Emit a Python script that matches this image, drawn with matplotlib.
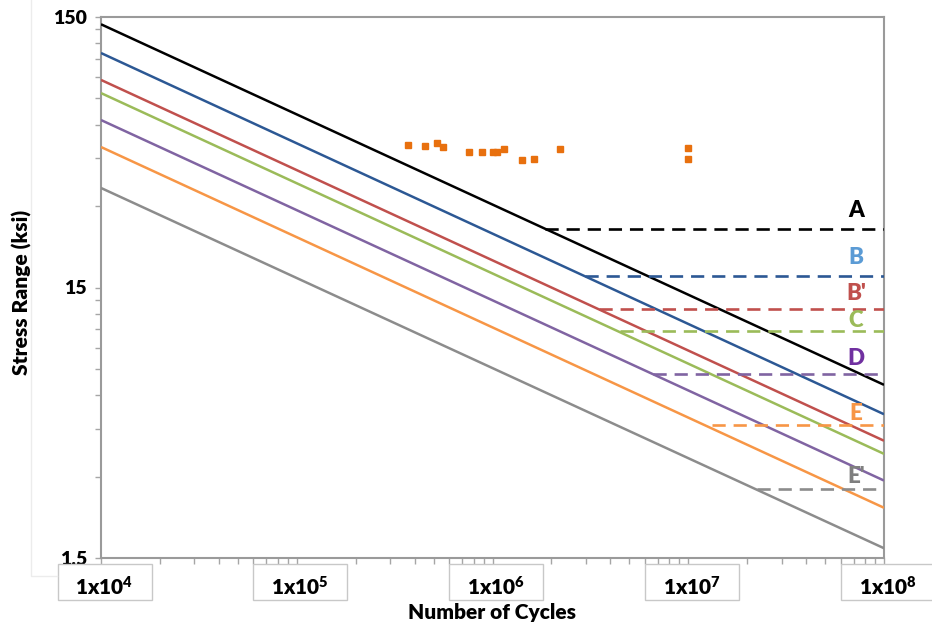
import numpy as np
import matplotlib
matplotlib.use('Agg')
import matplotlib.pyplot as plt
from matplotlib.patches import Rectangle
from matplotlib.lines import Line2D
from matplotlib.ticker import FixedLocator, NullFormatter

WT = 'heavy'
plt.rcParams['font.family'] = ['Lato', 'DejaVu Sans']
plt.rcParams['font.weight'] = WT
plt.rcParams['mathtext.fontset'] = 'custom'
plt.rcParams['mathtext.rm'] = 'Lato:heavy'
plt.rcParams['mathtext.bf'] = 'Lato:heavy'
plt.rcParams['mathtext.it'] = 'Lato:heavy'

# detail categories, S-N lines read at N = 1e4 and N = 1e8
categories = ['A', 'B', "B'", 'C', 'D', 'E', "E'"]
n_ends = [1e4, 1e8]
s_start = [141.0, 110.4, 87.8, 78.5, 62.4, 49.6, 35.0]
s_end = [6.55, 5.10, 4.07, 3.64, 2.90, 2.30, 1.63]
# constant amplitude fatigue thresholds (dashed) and where they begin
caft = [24.7, 16.5, 12.5, 10.4, 7.2, 4.66, 2.7]
caft_start = [1.85e6, 2.97e6, 3.5e6, 4.48e6, 6.6e6, 1.32e7, 2.24e7]
label_s = [28.8, 19.4, 14.3, 11.3, 8.23, 5.15, 2.99]

# test results
n_test = [3.72e5, 4.52e5, 5.22e5, 5.61e5, 7.61e5, 8.87e5, 1.01e6, 1.06e6,
          1.14e6, 1.42e6, 1.62e6, 2.21e6, 1.0e7, 1.0e7]
s_test = [50.4, 50.2, 51.2, 49.7, 47.4, 47.4, 47.5, 47.5,
          48.9, 44.5, 44.8, 48.9, 49.3, 44.9]

x_ticks = [1e4, 1e5, 1e6, 1e7, 1e8]
x_labels = ['1x10$^{4}$', '1x10$^{5}$', '1x10$^{6}$', '1x10$^{7}$', '1x10$^{8}$']
y_ticks = [1.5, 15, 150]
y_labels = ['1.5', '15', '150']

line_colors = ['#000000', '#2c5894', '#c0504d', '#9bbb59', '#8064a2', '#f79646', '#8c8c8c']
text_colors = ['#000000', '#5b9bd5', '#c0504d', '#9bbb59', '#7030a0', '#f79646', '#7f7f7f']

W, H = 932, 632
fig = plt.figure(figsize=(W / 100, H / 100), dpi=100)
L, R, T, B = 101, 884, 17, 558
ax = fig.add_axes([L / W, 1 - B / H, (R - L) / W, (B - T) / H])
ax.set_xscale('log'); ax.set_yscale('log')
ax.set_xlim(1e4, 1e8); ax.set_ylim(1.5, 150)

for i, cat in enumerate(categories):
    ax.plot(n_ends, [s_start[i], s_end[i]], color=line_colors[i], lw=1.8,
            solid_capstyle='butt', zorder=3)
    ax.plot([caft_start[i], 1e8], [caft[i], caft[i]], color=line_colors[i], lw=1.9,
            ls=(0, (5, 3)), zorder=3)
    ax.text(7.2e7, label_s[i], cat, color=text_colors[i], fontsize=16,
            fontweight=WT, ha='center', va='center', zorder=4)

ax.plot(n_test, s_test, ls='none', marker='s', ms=5, color='#e8700e',
        mec='#e8700e', zorder=5)

# axes styling
for sp in ax.spines.values():
    sp.set_color('#9a9a9a'); sp.set_linewidth(1.5)
ax.set_yticks(y_ticks)
ax.set_yticklabels(y_labels, fontsize=14, fontweight=WT)
ax.yaxis.set_minor_locator(FixedLocator([1.5 * k for k in range(2, 10)] +
                                        [15 * k for k in range(2, 10)]))
ax.yaxis.set_minor_formatter(NullFormatter())
ax.set_xticks(x_ticks)
ax.set_xticklabels([''] * len(x_ticks))
ax.xaxis.set_minor_locator(FixedLocator([k * 10 ** j for j in range(4, 8) for k in range(2, 10)]))
ax.xaxis.set_minor_formatter(NullFormatter())
ax.tick_params(which='both', direction='out', length=4, width=1, color='#a6a6a6')
ax.tick_params(axis='y', pad=6)

# boxed x tick labels
fig.canvas.draw()
for n, lab in zip(x_ticks, x_labels):
    xd = ax.transData.transform((n, 1.5))[0]
    cx = xd + 3.5
    fig.add_artist(Rectangle(((cx - 47) / W, 1 - 600 / H), 94 / W, 36 / H,
                             transform=fig.transFigure, facecolor='white',
                             edgecolor='#c8c8c8', lw=1, zorder=2))
    fig.text(cx / W, 1 - 596 / H, lab, ha='center', va='baseline', fontsize=15,
             fontweight=WT, zorder=3)

fig.text(492 / W, 1 - 612 / H, 'Number of Cycles', ha='center', va='center',
         fontsize=15, fontweight=WT)
fig.text(22 / W, 1 - 292 / H, 'Stress Range (ksi)', ha='center', va='center',
         rotation=90, fontsize=15, fontweight=WT)

# faint panel edge on the left
fig.add_artist(Line2D([31 / W, 31 / W, 57 / W], [1.0, 1 - 576 / H, 1 - 576 / H],
                      transform=fig.transFigure, color='#ececec', lw=1))

fig.savefig('out.png', dpi=100)
